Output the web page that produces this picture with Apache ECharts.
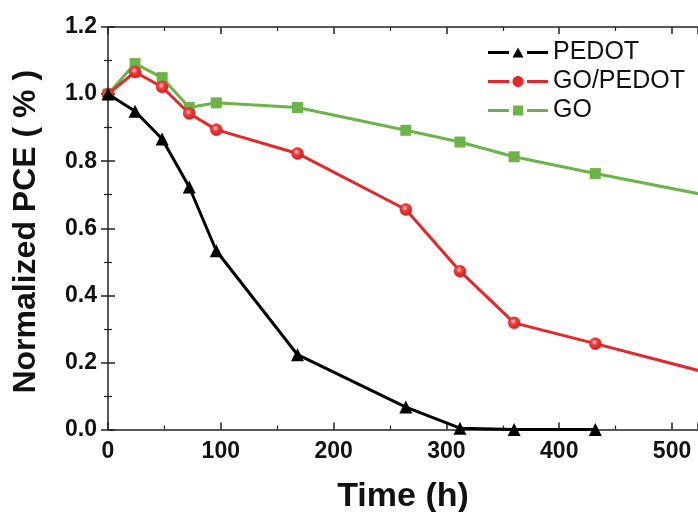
<!DOCTYPE html>
<html>
<head>
<meta charset="utf-8">
<script src="https://cdn.jsdelivr.net/npm/echarts@6/dist/echarts.min.js"></script>
<style>html,body{margin:0;padding:0;background:#fff;}#c{width:698px;height:512px;}</style>
</head>
<body>
<div id="c"></div>
<script>
// Data
const timeHours = [0, 24, 48, 72, 96, 168, 264, 312, 360, 432, 528];
const pedotValues = [1.0, 0.949, 0.866, 0.723, 0.533, 0.223, 0.067, 0.004, 0.0, 0.0];
const goPedotValues = [1.0, 1.066, 1.021, 0.942, 0.894, 0.823, 0.656, 0.472, 0.318, 0.256, 0.172];
const goValues = [1.0, 1.091, 1.049, 0.960, 0.974, 0.960, 0.892, 0.857, 0.813, 0.763, 0.700];
const seriesNames = ['PEDOT', 'GO/PEDOT', 'GO'];
const xTicks = [0, 100, 200, 300, 400, 500];
const yTicks = [0.0, 0.2, 0.4, 0.6, 0.8, 1.0, 1.2];

function pairs(xs, ys) { return ys.map((y, i) => [xs[i], y]); }

const FONT = '"Liberation Sans", Arial, sans-serif';
const AXIS_COLOR = '#222';
const RED = '#e8262a';
const GREEN = '#6ab545';

const redBall = {
  type: 'radial', x: 0.42, y: 0.38, r: 0.62,
  colorStops: [
    { offset: 0, color: '#ffe0e0' },
    { offset: 0.35, color: '#f24040' },
    { offset: 1, color: '#d41a1a' }
  ]
};

// legend icons: line segment, gap, marker, gap, line segment (box 60 x 11)
const iconTri = 'path://M0 4H21V7H0Z M39 4H60V7H39Z M30 0.5L35.5 10.5L24.5 10.5Z';
const iconCircle = 'path://M0 4H21V7H0Z M39 4H60V7H39Z M35.5 5.5C35.5 8.54 33.04 11 30 11C26.96 11 24.5 8.54 24.5 5.5C24.5 2.46 26.96 0 30 0C33.04 0 35.5 2.46 35.5 5.5Z';
const iconRect = 'path://M0 4H21V7H0Z M39 4H60V7H39Z M25 0.5H35V10.5H25Z';

const xBase = {
  type: 'value', min: xTicks[0], max: 523, interval: xTicks[1] - xTicks[0],
  splitLine: { show: false },
  axisLine: { onZero: false, lineStyle: { color: AXIS_COLOR, width: 1.5 } },
  axisTick: { inside: true, length: 7, lineStyle: { color: AXIS_COLOR, width: 1.5 } },
  minorTick: { show: true, splitNumber: 2, length: 4, lineStyle: { color: AXIS_COLOR, width: 1.2 } }
};
const yBase = {
  type: 'value', min: yTicks[0], max: yTicks[yTicks.length - 1], interval: yTicks[1] - yTicks[0],
  splitLine: { show: false },
  axisLine: { onZero: false, lineStyle: { color: AXIS_COLOR, width: 1.5 } },
  axisTick: { inside: true, length: 7, lineStyle: { color: AXIS_COLOR, width: 1.5 } },
  minorTick: { show: true, splitNumber: 2, length: 4, lineStyle: { color: AXIS_COLOR, width: 1.2 } }
};

const chart = echarts.init(document.getElementById('c'), null, { renderer: 'canvas' });
chart.setOption({
  animation: false,
  backgroundColor: '#ffffff',
  grid: { left: 108, right: 0, top: 27, bottom: 82.5, containLabel: false, outerBoundsMode: 'none' },
  legend: {
    orient: 'vertical', left: 488, top: 40, itemGap: 4, padding: 0,
    itemWidth: 60, itemHeight: 11,
    textStyle: { fontFamily: FONT, fontSize: 25, color: '#111' },
    data: [
      { name: seriesNames[0], icon: iconTri, itemStyle: { color: '#000', borderWidth: 0 } },
      { name: seriesNames[1], icon: iconCircle, itemStyle: { color: RED, borderWidth: 0 } },
      { name: seriesNames[2], icon: iconRect, itemStyle: { color: GREEN, borderWidth: 0 } }
    ]
  },
  xAxis: [
    Object.assign({}, xBase, {
      position: 'bottom',
      name: 'Time (h)', nameLocation: 'middle', nameGap: 50,
      nameTextStyle: { fontFamily: FONT, fontWeight: 'bold', fontSize: 34, color: '#111' },
      axisLabel: { showMaxLabel: false, margin: 11, fontFamily: FONT, fontWeight: 'bold', fontSize: 23, color: '#111' }
    }),
    Object.assign({}, xBase, { position: 'top', axisLabel: { show: false } })
  ],
  yAxis: [
    Object.assign({}, yBase, {
      position: 'left',
      name: 'Normalized PCE ( % )', nameLocation: 'middle', nameGap: 66, nameRotate: 90,
      nameTextStyle: { fontFamily: FONT, fontWeight: 'bold', fontSize: 32, color: '#111', padding: [0, 7, 0, 0] },
      axisLabel: { margin: 11, fontFamily: FONT, fontWeight: 'bold', fontSize: 23, color: '#111',
        formatter: v => v.toFixed(1) }
    }),
    Object.assign({}, yBase, { position: 'right', axisLine: { show: false }, axisLabel: { show: false } })
  ],
  series: [
    {
      name: seriesNames[0], type: 'line', data: pairs(timeHours, pedotValues),
      symbol: 'triangle', symbolSize: 13, clip: true,
      lineStyle: { color: '#000', width: 3 }, itemStyle: { color: '#000' }, z: 4
    },
    {
      name: seriesNames[1], type: 'line', data: pairs(timeHours, goPedotValues),
      symbol: 'circle', symbolSize: 12, clip: true,
      lineStyle: { color: RED, width: 3 }, itemStyle: { color: redBall, borderColor: '#d82020', borderWidth: 0.5 }, z: 3
    },
    {
      name: seriesNames[2], type: 'line', data: pairs(timeHours, goValues),
      symbol: 'rect', symbolSize: 11, clip: true,
      lineStyle: { color: GREEN, width: 3 }, itemStyle: { color: GREEN }, z: 2
    }
  ]
});
</script>
</body>
</html>
